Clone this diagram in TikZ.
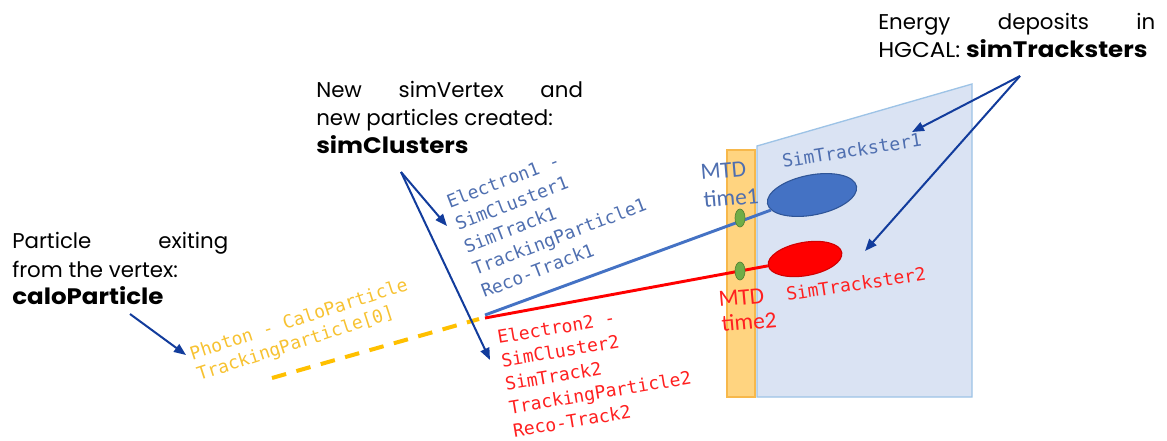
\documentclass[tikz,border=0pt]{standalone}
\usepackage{fontspec}
\setmainfont{Poppins}
\newfontfamily\monof{DejaVu Sans Mono}
\newfontfamily\calf{Carlito}
\usetikzlibrary{arrows.meta,shapes.geometric}
\definecolor{panelfill}{HTML}{DAE3F3}
\definecolor{paneldraw}{HTML}{9DC3E6}
\definecolor{barfill}{HTML}{FFD480}
\definecolor{bardraw}{HTML}{F7B84B}
\definecolor{bluetxt}{HTML}{4F6FB0}
\definecolor{blueline}{HTML}{4472C4}
\definecolor{blueedge}{HTML}{2F5597}
\definecolor{redc}{HTML}{FF0000}
\definecolor{redtxt}{HTML}{FF2020}
\definecolor{rededge}{HTML}{D00000}
\definecolor{yellowc}{HTML}{FFC000}
\definecolor{yellowtxt}{HTML}{F7C232}
\definecolor{greenc}{HTML}{70AD47}
\definecolor{greenedge}{HTML}{548235}
\definecolor{arrowblue}{HTML}{123C9C}
\newcommand{\keyword}[1]{\scalebox{1.15}[1.05]{\textbf{#1}}}
\begin{document}
\begin{tikzpicture}[x=0.75pt,y=-0.75pt,
  lbl/.style={anchor=base west, inner sep=0pt, font=\fontsize{16}{19}\selectfont},
  mono/.style={anchor=base west, inner sep=0pt, align=left},
  mtd/.style={anchor=base west, inner sep=0pt, font=\calf\fontsize{17.5}{20}\selectfont, rotate=5},
  arr/.style={draw=arrowblue, line width=1.5pt, -{Triangle[length=9pt,width=7pt]}},
  dot/.style={ellipse, draw=greenedge, fill=greenc, line width=0.5pt, minimum width=7.5pt, minimum height=13.5pt, inner sep=0pt}]
\useasboundingbox (0,0) rectangle (1167,440);

% HGCAL panel and MTD bar
\draw[fill=panelfill, draw=paneldraw, line width=1pt] (757,146) -- (972,84) -- (972,397) -- (757,397) -- cycle;
\draw[fill=barfill, draw=bardraw, line width=1pt] (727,150) rectangle (755,397);

% vertex coordinates
\coordinate (vb) at (485,315);
\coordinate (vr) at (485,318);
\coordinate (yA) at (272,378);
\coordinate (yB) at (479,319);

% ellipses (simTracksters)
\node[ellipse, draw=blueedge, fill=blueline, line width=0.8pt, minimum width=68pt, minimum height=30pt, rotate=11, inner sep=0pt] (e1) at (812,195) {};
\node[ellipse, draw=rededge, fill=redc, line width=0.8pt, minimum width=56pt, minimum height=25pt, rotate=10, inner sep=0pt] (e2) at (805,259) {};

% tracks
\draw[yellowc, line width=3pt, dash pattern=on 11pt off 8pt] (yA) -- (yB);
\draw[blueline, line width=2.2pt] (vb) -- (e1);
\draw[redc, line width=2.2pt] (vr) -- (e2);

% MTD hits
\node[dot] (d1) at (740,218) {};
\node[dot] (d2) at (740,271) {};

% black explanatory texts
\node[lbl] (p1) at (12,248) {\makebox[162pt][l]{Particle\hfill exiting}};
\node[lbl] (p2) at (12,277) {from the vertex:};
\node[lbl] (p3) at (12,304) {\keyword{caloParticle}};

\node[lbl] (n1) at (316,97) {\makebox[200pt][l]{New\hfill simVertex\hfill and}};
\node[lbl] (n2) at (316,125) {new particles created:};
\node[lbl] (n3) at (316,153) {\keyword{simClusters}};

\node[lbl] (h1) at (878,29) {\makebox[207.75pt][l]{Energy\hfill deposits\hfill in}};
\node[lbl] (h2) at (878,57) {\scalebox{1.08}[1]{HGCAL:} \keyword{simTracksters}};

% blue block (anchor = baseline of last line)
\node[mono, text=bluetxt, rotate=21, font=\monof\fontsize{13.5}{18}\selectfont] (bb) at (484,298)
  {Electron1 -\\SimCluster1\\SimTrack1\\TrackingParticle1\\Reco-Track1};

% red block
\node[mono, text=redtxt, rotate=9.5, font=\monof\fontsize{13.5}{17.8}\selectfont] (rb) at (514,437.5)
  {Electron2 -\\SimCluster2\\SimTrack2\\TrackingParticle2\\Reco-Track2};

% yellow block
\node[mono, text=yellowtxt, rotate=18, font=\monof\fontsize{13.5}{16.5}\selectfont] (yb) at (199,381)
  {Photon - CaloParticle\\TrackingParticle[0]};

% simTrackster labels
\node[mono, text=bluetxt, rotate=9, font=\monof\fontsize{13.5}{16}\selectfont] (s1) at (783,168) {SimTrackster1};
\node[mono, text=redtxt, rotate=8.5, font=\monof\fontsize{13.5}{16}\selectfont] (s2) at (787,301) {SimTrackster2};

% MTD labels
\node[mtd, text=bluetxt] (m1a) at (701,180) {MTD};
\node[mtd, text=bluetxt] (m1b) at (704,208) {time1};
\node[mtd, text=redtxt] (m2a) at (719,307) {MTD};
\node[mtd, text=redtxt] (m2b) at (722,332) {time2};

% arrows
\coordinate (ca) at (130,314);
\coordinate (cat) at (186,355);
\draw[arr] (ca) -- (cat);
\coordinate (sc) at (401,172);
\coordinate (sct1) at (447,226);
\coordinate (sct2) at (490,360);
\draw[arr] (sc) -- (sct1);
\draw[arr] (sc) -- (sct2);
\coordinate (st) at (1020,76);
\coordinate (stt1) at (912,132);
\coordinate (stt2) at (865,251);
\draw[arr] (st) -- (stt1);
\draw[arr] (st) -- (stt2);
\end{tikzpicture}
\end{document}
